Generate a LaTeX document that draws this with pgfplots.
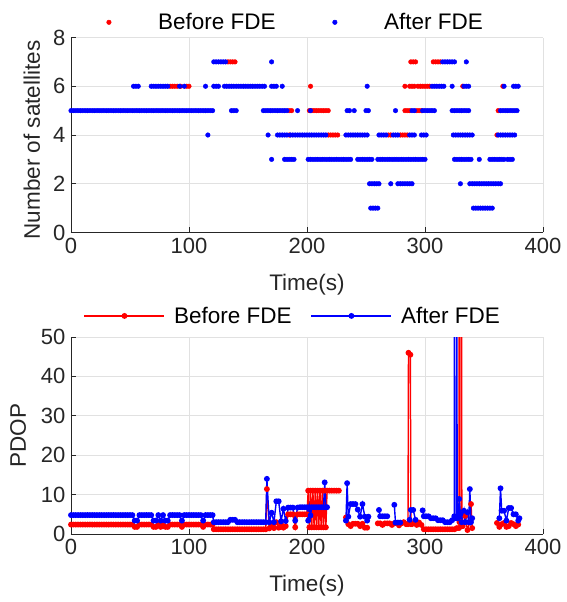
\documentclass[border=0pt]{standalone}
\usepackage{fontspec}
\setmainfont{Liberation Sans}
\usepackage{pgfplots}
\pgfplotsset{compat=1.18}
\definecolor{axcol}{RGB}{38,38,38}
\definecolor{gridcol}{RGB}{225,225,225}

\pgfplotsset{
  matlab/.style={
    scale only axis, width=472pt,
    xmin=0, xmax=400, xtick={0,100,200,300,400},
    axis x line*=bottom, axis y line*=left,
    axis line style={axcol, line width=0.9pt},
    every tick/.style={axcol, line width=0.9pt},
    tick align=inside, major tick length=5pt,
    grid=major, major grid style={gridcol, line width=0.8pt},
    tick label style={font=\fontsize{22}{26}\selectfont, text=axcol},
    xticklabel style={yshift=-2pt},
    yticklabel style={xshift=-2pt},
    label style={font=\fontsize{22.5}{27}\selectfont, text=axcol},
    /pgf/number format/assume math mode=true,
    xlabel={Time(s)},
    xlabel style={at={(axis description cs:0.5,0)}, anchor=center, yshift=-52pt},
    legend style={draw=none, fill=none, font=\fontsize{22.5}{27}\selectfont,
      /tikz/every odd column/.append style={column sep=7pt},
      /tikz/every even column/.append style={column sep=17pt}, anchor=center},
    legend columns=2,
    unbounded coords=jump,
  },
  dotleg/.style={legend image code/.code={
    \path (0pt,0pt) (80pt,0pt);
    \draw[##1,only marks] plot coordinates {(40pt,0pt)};}},
  lineleg/.style={legend image code/.code={
    \draw[##1,mark repeat=2,mark phase=2] plot coordinates {(0pt,0pt) (40pt,0pt) (80pt,0pt)};}},
}

\begin{document}
\begin{tikzpicture}
\path (-71pt,-369.5pt) rectangle (496pt,232.5pt);

% number of satellites
\begin{axis}[matlab, at={(0pt,0pt)}, height=195pt,
  ymin=0, ymax=8, ytick={0,2,4,6,8},
  ylabel={Number of satellites},
  ylabel style={at={(axis description cs:-0.083,0.474)}, anchor=center},
  legend style={at={(0.436,1.078)}}]
\addplot[only marks, mark=*, mark size=2.3pt, color=red, dotleg] coordinates {
(185,5)(187,5)(202,5)(204,5)(206,5)(208,5)(210,5)(212,5)(214,5)(216,5)(218,5)
(283,5)(285,5)(287,5)(293,5)(295,5)(297,5)(362,5)
(84,6)(86,6)(88,6)(90,6)(93,6)(98,6)(100,6)(203,6)(283,6)(287,6)(289,6)(291,6)
(294,6)(296,6)(298,6)(300,6)(302,6)(304,6)(332,6)(366,6)
(133,7)(135,7)(137,7)(139,7)(288,7)(290,7)(292,7)(307,7)(309,7)(311,7)(313,7)
(185,4)(218,4)(220,4)(222,4)(224,4)(226,4)(269,4)(271,4)(279,4)(281,4)(283,4)(285,4)(361,4)
};
\addlegendentry{Before FDE}
\addplot[only marks, mark=*, mark size=2.3pt, color=blue, dotleg] coordinates {
(0,5)(2,5)(4,5)(6,5)(8,5)(10,5)(12,5)(14,5)(16,5)(18,5)(20,5)(22,5)(24,5)(26,5)(28,5)
(30,5)(32,5)(34,5)(36,5)(38,5)(40,5)(42,5)(44,5)(46,5)(48,5)(50,5)(52,5)(54,5)(56,5)
(58,5)(60,5)(62,5)(64,5)(66,5)(68,5)(70,5)(72,5)(74,5)(76,5)(78,5)(80,5)(82,5)(84,5)
(86,5)(88,5)(90,5)(92,5)(94,5)(96,5)(98,5)(100,5)(102,5)(104,5)(106,5)(108,5)(110,5)
(112,5)(114,5)(116,5)(118,5)(120,5)(136,5)(138,5)(140,5)
(163,5)(165,5)(167,5)(169,5)(171,5)(173,5)(175,5)(177,5)(179,5)(181,5)(183,5)(192,5)
(203,5)(234,5)(236,5)(240,5)(250,5)(252,5)(275,5)(289,5)(291,5)
(298,5)(300,5)(302,5)(304,5)(306,5)(308,5)
(323,5)(325,5)(327,5)(329,5)(331,5)(333,5)(335,5)(337,5)
(364,5)(366,5)(368,5)(370,5)(372,5)(374,5)(376,5)(378,5)
(53,6)(55,6)(57,6)(68,6)(70,6)(72,6)(74,6)(76,6)(78,6)(80,6)(82,6)(92,6)(96,6)(114,6)
(121,6)(123,6)(125,6)(130,6)(132,6)(134,6)(136,6)(138,6)(140,6)(142,6)(144,6)(146,6)
(148,6)(150,6)(152,6)(154,6)(156,6)(158,6)(160,6)(162,6)(164,6)(170,6)(172,6)(174,6)
(179,6)(251,6)(306,6)(308,6)(310,6)(312,6)(314,6)(316,6)(323,6)(333,6)(335,6)(337,6)
(367,6)(375,6)(377,6)(379,6)
(121,7)(123,7)(125,7)(127,7)(129,7)(131,7)(170,7)
(315,7)(317,7)(319,7)(321,7)(323,7)(325,7)(335,7)
(116,4)(167,4)(175,4)(177,4)(179,4)(181,4)(183,4)
(186,4)(188,4)(190,4)(192,4)(194,4)(196,4)(198,4)(200,4)(202,4)(204,4)(206,4)(208,4)
(210,4)(212,4)(214,4)(216,4)
(233,4)(235,4)(237,4)(239,4)(241,4)(243,4)(245,4)(247,4)(249,4)(251,4)
(261,4)(263,4)(265,4)(267,4)(273,4)(275,4)(277,4)(287,4)(289,4)(291,4)
(297,4)(299,4)(301,4)
(324,4)(326,4)(328,4)(330,4)(332,4)(334,4)(336,4)(338,4)(340,4)
(362,4)(364,4)(366,4)(368,4)(370,4)(372,4)(374,4)(376,4)
(170,3)(181,3)(183,3)(185,3)(187,3)(189,3)
(201,3)(203,3)(205,3)(207,3)(209,3)(211,3)(213,3)(215,3)(217,3)(219,3)(221,3)(223,3)
(225,3)(227,3)(229,3)(231,3)(233,3)(235,3)(237,3)
(243,3)(245,3)(247,3)(249,3)(251,3)(253,3)(255,3)
(260,3)(262,3)(264,3)(266,3)(268,3)(270,3)(272,3)(274,3)(276,3)(278,3)(280,3)(282,3)
(284,3)(286,3)(288,3)(290,3)(292,3)(294,3)(296,3)(298,3)(300,3)
(325,3)(327,3)(329,3)(331,3)(333,3)(335,3)(337,3)(339,3)(346,3)
(355,3)(357,3)(359,3)(361,3)(363,3)(365,3)(367,3)(370,3)(372,3)(374,3)
(253,2)(255,2)(257,2)(259,2)(261,2)(271,2)
(277,2)(279,2)(281,2)(283,2)(285,2)(287,2)(289,2)(330,2)
(338,2)(340,2)(342,2)(344,2)(346,2)(348,2)(350,2)(352,2)(354,2)(356,2)(358,2)(360,2)
(362,2)(364,2)
(254,1)(256,1)(258,1)(260,1)
(341,1)(343,1)(345,1)(347,1)(349,1)(351,1)(353,1)(355,1)(357,1)
};
\addlegendentry{After FDE}
\end{axis}

% PDOP
\begin{axis}[matlab, at={(0pt,-301.5pt)}, height=197pt,
  ymin=0, ymax=50, ytick={0,10,20,30,40,50},
  ylabel={PDOP},
  ylabel style={at={(axis description cs:-0.112,0.5)}, anchor=center},
  legend style={at={(0.47,1.107)}},
  lineleg]
\addplot[color=red, line width=1.4pt, mark=*, mark size=2.2pt] coordinates {
(0,2.4)(2,2.4)(4,2.4)(6,2.4)(8,2.4)(10,2.4)(12,2.4)(14,2.4)(16,2.4)(18,2.4)(20,2.4)
(22,2.4)(24,2.4)(26,2.4)(28,2.4)(30,2.4)(32,2.4)(34,2.4)(36,2.4)(38,2.4)(40,2.4)
(42,2.4)(44,2.4)(46,2.4)(48,2.4)(50,2.4)(52,2.4)(54,1.8)(56,1.8)(58,2.4)(60,2.4)
(62,2.4)(64,2.4)(66,2.4)(68,2.4)(70,1.8)(72,1.8)(74,2.4)(76,1.8)(78,2.4)(80,1.8)
(82,1.8)(84,2.4)(86,2.4)(88,2.4)(90,2.4)(92,2.4)(94,1.8)(96,2.4)(98,2.4)(100,2.4)
(102,2.4)(104,2.4)(106,2.4)(108,2.4)(110,2.4)(112,1.8)(114,2.4)(116,2.4)(118,2.4)(120,2.4)
(121,1.2)(123,1.2)(125,1.2)(127,1.2)(129,1.2)(131,1.2)(133,1.2)(135,1.2)(137,1.2)
(139,1.2)(141,1.2)(143,1.2)(145,1.2)(147,1.2)(149,1.2)(151,1.2)(153,1.2)(155,1.2)
(157,1.2)(159,1.2)(161,1.2)(163,1.2)(165,1.2)
(166,11.4)(168,1.4)(170,2.2)(172,1.5)(174,3.0)(176,1.6)(178,2.5)(180,1.6)(182,2.0)
(184,5.0)(186,5.0)(188,5.0)(190,1.7)(192,5.0)(194,5.0)(196,5.0)(198,5.0)(200,5.0)
(201,11.0)(202,1.7)(203,11.0)(204,1.7)(205,11.0)(206,1.7)(207,11.0)(208,1.7)
(209,11.0)(210,1.7)(211,11.0)(212,1.7)(213,11.0)(214,1.7)(215,11.0)(216,1.7)
(217,11.0)(219,11.0)(221,11.0)(223,11.0)(225,11.0)(227,11.0)
(229,nan)
(233,4.2)(235,2.5)(237,2.0)(239,2.6)(241,2.6)(243,2.6)(245,2.0)(247,2.6)(249,1.6)(251,1.6)
(255,nan)
(260,2.7)(262,2.7)(264,2.3)(266,2.7)(268,2.7)(270,2.7)(272,2.3)(274,2.7)(276,2.7)
(278,2.2)(280,2.7)(282,3.0)(284,2.5)(285.6,2.5)(286,46.0)(287.6,45.5)(288,2.5)
(289,2.5)(291,2.9)(293,2.3)
(295,2.9)(297,2.3)(299,1.2)(301,1.2)(303,1.2)(305,1.2)(307,1.2)(309,1.2)(311,1.2)
(313,1.2)(315,1.2)(317,1.2)(319,1.2)(321,1.2)(323,1.2)(325,1.2)(327,1.5)
(328.8,1.5)(329,120)(329.2,3.0)(330.8,3.0)(331,120)(331.2,2.0)
(332,2.0)(334,4.6)(336,1.0)(338,3.0)(339,7.6)(340,1.5)
(345,nan)
(361,2.8)(363,1.8)(365,2.5)(367,2.8)(369,1.8)(371,2.0)(373,2.8)(375,2.5)(377,2.0)(379,2.4)
};
\addlegendentry{Before FDE}
\addplot[color=blue, line width=1.4pt, mark=*, mark size=2.2pt] coordinates {
(0,4.8)(2,4.8)(4,4.8)(6,4.8)(8,4.8)(10,4.8)(12,4.8)(14,4.8)(16,4.8)(18,4.8)(20,4.8)
(22,4.8)(24,4.8)(26,4.8)(28,4.8)(30,4.8)(32,4.8)(34,4.8)(36,4.8)(38,4.8)(40,4.8)
(42,4.8)(44,4.8)(46,4.8)(48,4.8)(50,4.8)(52,4.8)(54,3.4)(56,3.4)(58,4.8)(60,4.8)
(62,4.8)(64,4.8)(66,4.8)(68,4.8)(70,3.4)(72,3.4)(74,4.8)(76,3.4)(78,4.8)(80,3.4)
(82,3.4)(84,4.8)(86,4.8)(88,4.8)(90,4.8)(92,4.8)(94,3.4)(96,4.8)(98,4.8)(100,4.8)
(102,4.8)(104,4.8)(106,4.8)(108,4.8)(110,4.8)(112,3.4)(114,4.8)(116,4.8)(118,4.8)(120,4.8)
(121,3.0)(123,3.0)(125,3.0)(127,3.0)(129,3.0)(131,3.0)(133,3.0)(135,3.6)(137,3.6)
(139,3.6)(141,3.0)(143,3.0)(145,3.0)(147,3.0)(149,3.0)(151,3.0)(153,3.0)(155,3.0)
(157,3.0)(159,3.0)(161,3.0)(163,3.0)(165,3.0)
(166,14.0)(168,3.0)(170,5.4)(172,3.0)(174,8.3)(176,8.3)(178,3.2)(180,6.4)(182,3.3)
(184,6.7)(186,6.7)(188,6.7)(190,3.4)(192,6.7)(194,6.8)(196,6.8)(198,6.8)(200,6.8)
(201,3.4)(202,6.8)(203,4.7)(204,6.8)(206,6.8)(208,6.8)(210,6.8)(212,6.8)(214,6.8)
(215,13.1)(216,6.8)(217,6.8)
(218,nan)
(233,3.4)(234,12.9)(235,4.4)(237,7.6)(239,7.6)(241,7.6)(243,6.2)(245,4.4)(247,7.6)
(249,4.4)(251,3.4)(252,4.4)
(255,nan)
(261,6.1)(262,4.5)(264,4.5)(266,4.5)(268,4.5)
(270,nan)
(274,7.4)(275,2.9)(277,2.9)(279,2.9)
(281,nan)
(287,3.6)(288,6.1)(290,6.1)(292,3.6)
(294,nan)
(298,6.0)(299,4.5)(301,4.5)(303,4.5)(305,4.0)(307,4.0)(309,4.0)(311,3.5)(313,3.5)
(315,3.5)(317,3.0)(319,3.0)(321,3.0)(323,3.5)(324.8,4.5)(325,120)(325.2,4.0)
(326.8,4.0)(327,120)(327.2,4.0)
(328,4.0)(329,8.9)(330,5.0)(331,3.0)(333,5.9)(334,3.0)(336,5.5)(337,3.0)(338,11.4)
(339,3.0)(340,4.0)
(345,nan)
(363,4.0)(364,11.6)(365,5.9)(367,5.9)(369,3.4)(371,6.6)(373,6.6)(375,5.0)(377,5.0)
(379,3.4)(380,4.0)
};
\addlegendentry{After FDE}
\end{axis}
\end{tikzpicture}
\end{document}
